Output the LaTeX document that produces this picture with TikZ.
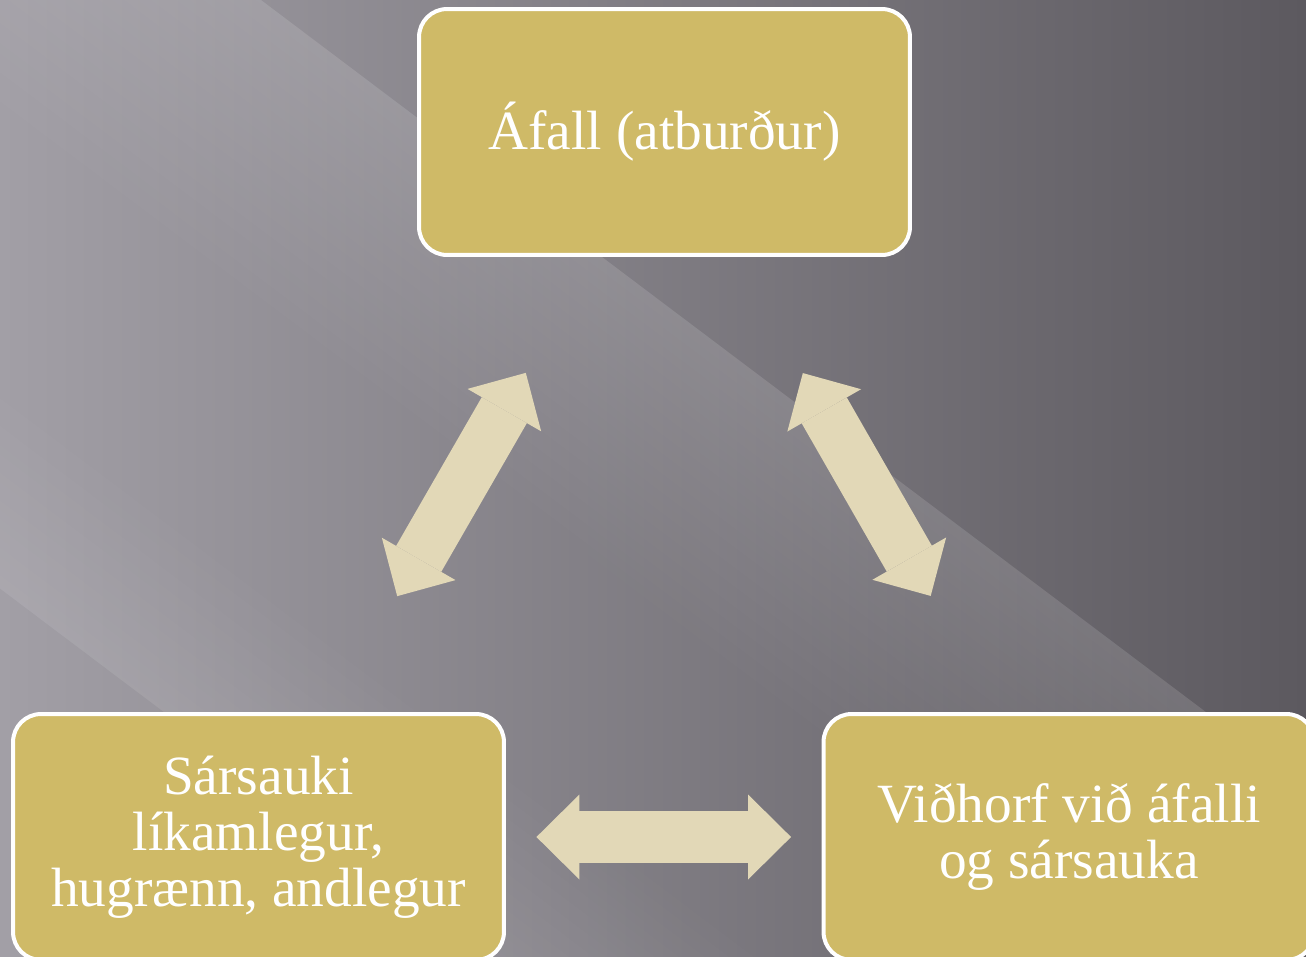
\documentclass[tikz,border=0pt]{standalone}
\usepackage{fontspec}
\setmainfont{Liberation Serif}
\usetikzlibrary{arrows.meta}
\usetikzlibrary{fadings}
\definecolor{boxgold}{RGB}{207,186,103}
\definecolor{arrowtan}{RGB}{226,216,183}
\definecolor{bgleft}{RGB}{162,159,166}
\definecolor{bgmid}{RGB}{106,103,109}
\definecolor{bgright}{RGB}{92,89,95}
\tikzfading[name=fadedown,top color=transparent!0,bottom color=transparent!100]
\tikzfading[name=fadeup,top color=transparent!100,bottom color=transparent!0]

\begin{document}
\begin{tikzpicture}[x=0.02cm,y=-0.02cm,line join=round,
  box/.style={rectangle,rounded corners=0.56cm,fill=boxgold,draw=white,line width=0.08cm,
    minimum width=9.82cm,minimum height=4.92cm,text=white,align=center,inner sep=0pt,
    font=\fontsize{31.5}{31.9}\selectfont},
  twoway/.style={draw=arrowtan,line width=1.04cm,{Triangle[length=0.86cm,width=1.7cm,line width=0pt]}-{Triangle[length=0.86cm,width=1.7cm,line width=0pt]},
    shorten <=5.56cm,shorten >=5.56cm}]
\useasboundingbox (0,0) rectangle (1306,957);
\begin{scope}
\clip (0,0) rectangle (1306,957);
\shade[left color=bgleft,middle color=bgmid,right color=bgright] (0,0) rectangle (1306,957);
\begin{scope}[transform canvas={rotate=-37}]
\fill[white,opacity=.13,path fading=fadedown] (-800,-157) rectangle (2400,100);
\fill[white,opacity=.09,path fading=fadeup] (-800,300) rectangle (2400,470);
\end{scope}
\end{scope}

\node[box] (afall) at (664.5,132) {Áfall (atburður)};
\node[box] (sarsauki) at (258.5,837) {Sársauki\\líkamlegur,\\hugrænn, andlegur};
\node[box] (vidhorf) at (1069,837) {Viðhorf við áfalli\\og sársauka};

\draw[twoway] (afall.center) -- (sarsauki.center);
\draw[twoway] (afall.center) -- (vidhorf.center);
\draw[twoway] (sarsauki.center) -- (vidhorf.center);
\end{tikzpicture}
\end{document}
